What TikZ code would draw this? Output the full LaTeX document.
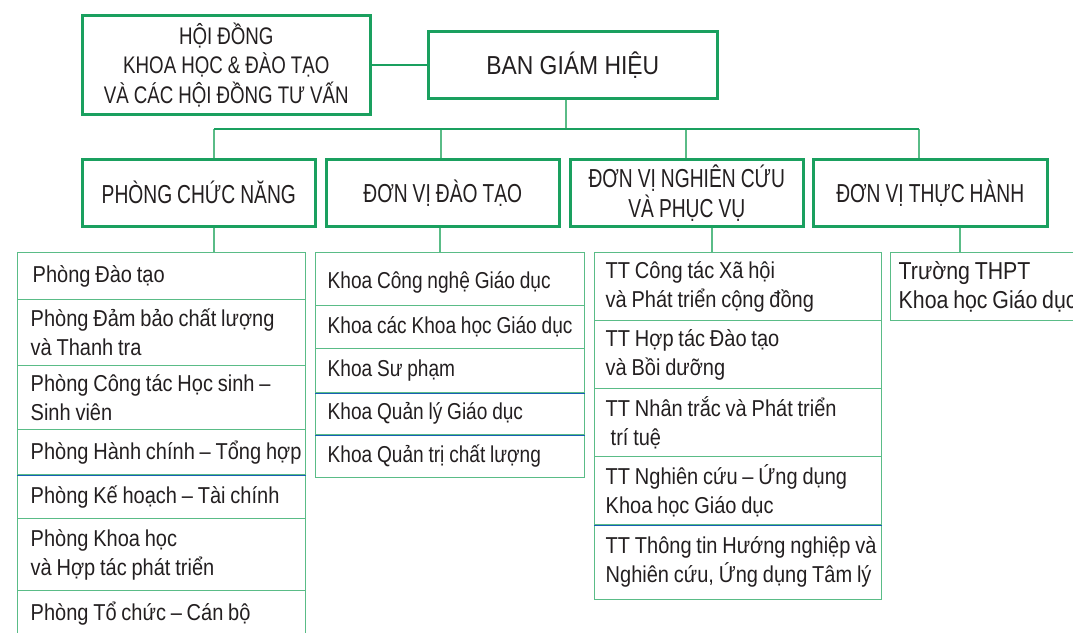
\documentclass[tikz,border=0pt]{standalone}
\usepackage{fontspec}
\setmainfont{Liberation Sans}
\newfontfamily\listfont[FakeStretch=0.87]{Liberation Sans}
\newfontfamily\khoafont[FakeStretch=0.83]{Liberation Sans}
\newfontfamily\thptfont[FakeStretch=0.87]{Liberation Sans}
\newfontfamily\headfont[FakeStretch=0.74]{Liberation Sans}
\newfontfamily\bghfont[FakeStretch=0.88]{Liberation Sans}
\newfontfamily\hdfont[FakeStretch=0.78]{Liberation Sans}
\newskip\lspskip \lspskip=4.8pt plus 1pt minus 1pt
\newskip\hspskip \hspskip=5pt plus 1pt minus 1pt
\protected\def\listsel{\listfont\fontsize{23}{29}\selectfont\spaceskip=\lspskip\relax}
\protected\def\khoasel{\khoafont\fontsize{23}{29}\selectfont\spaceskip=\lspskip\relax}
\protected\def\thptsel{\thptfont\fontsize{24.5}{29.5}\selectfont\spaceskip=\lspskip\relax}
\protected\def\headsel{\headfont\fontsize{26}{30}\selectfont\spaceskip=\hspskip\relax}
\protected\def\hdsel{\hdfont\fontsize{24}{29.5}\selectfont\spaceskip=\hspskip\relax}
\protected\def\bghsel{\bghfont\fontsize{26}{30}\selectfont}
\definecolor{gthick}{RGB}{26,160,95}
\definecolor{glight}{RGB}{90,188,135}
\definecolor{bline}{RGB}{25,95,180}
\definecolor{txt}{RGB}{35,31,32}
\tikzset{
  mainbox/.style={draw=gthick, line width=2.6pt, text=txt, align=center, inner sep=0pt, anchor=north west},
  headbox/.style={mainbox, minimum width=233pt, minimum height=67pt, font=\headsel},
  rowbox/.style={draw=glight, line width=1.4pt, text=txt, align=flush left, anchor=north west, inner ysep=0pt, font=\listsel},
  rowP/.style={rowbox, minimum width=288pt, text width=262pt, inner xsep=13pt},
  rowK/.style={rowbox, minimum width=269pt, text width=245pt, inner xsep=12pt, font=\khoasel},
  rowT/.style={rowbox, minimum width=287pt, text width=265pt, inner xsep=11pt},
  busline/.style={draw=gthick, line width=2.4pt},
  linkline/.style={draw=glight, line width=1.5pt},
  sepblue/.style={draw=bline, line width=1.2pt}
}
\begin{document}
\begin{tikzpicture}[x=1pt, y=-1pt]
\useasboundingbox (0,0) rectangle (1073,632);
\clip (0,0) rectangle (1073,632);
% top level
\node[mainbox, minimum width=288pt, minimum height=99pt, font=\hdsel] (hd) at (81,14) {HỘI ĐỒNG\\KHOA HỌC \& ĐÀO TẠO\\VÀ CÁC HỘI ĐỒNG TƯ VẤN};
\node[mainbox, minimum width=289pt, minimum height=67pt, font=\bghsel] (bgh) at (427,30) {BAN GIÁM HIỆU};
\draw[busline] (hd.east) -- (bgh.west);
% level 2
\node[headbox] (pcn) at (81,158) {PHÒNG CHỨC NĂNG};
\node[headbox] (dt) at (325,158) {ĐƠN VỊ ĐÀO TẠO};
\node[headbox] (nc) at (569,158) {ĐƠN VỊ NGHIÊN CỨU\\VÀ PHỤC VỤ};
\node[headbox, minimum width=234pt] (th) at (812,158) {ĐƠN VỊ THỰC HÀNH};
% bus
\coordinate (b0) at (566,129);
\coordinate (b1) at (214,129);
\coordinate (b2) at (441,129);
\coordinate (b3) at (686,129);
\coordinate (b4) at (919,129);
\draw[linkline] (b0 |- bgh.south) -- (b0);
\draw[linkline] (b1) -- (b1 |- pcn.north);
\draw[linkline] (b2) -- (b2 |- dt.north);
\draw[linkline] (b3) -- (b3 |- nc.north);
\draw[linkline] (b4) -- (b4 |- th.north);
\draw[busline] (b1) -- (b4);
% Phong list
\node[rowP, minimum height=47pt] (p1) at (17,252) {\hspace*{2pt}Phòng Đào tạo};
\node[rowP, minimum height=66pt] (p2) at (17,299) {\mbox{Phòng Đảm bảo chất lượng}\\và Thanh tra};
\node[rowP, minimum height=64pt] (p3) at (17,365) {\mbox{Phòng Công tác Học sinh –}\\Sinh viên};
\node[rowP, minimum height=45pt] (p4) at (17,429) {\mbox{Phòng Hành chính – Tổng hợp}};
\node[rowP, minimum height=44pt] (p5) at (17,474) {\mbox{Phòng Kế hoạch – Tài chính}};
\node[rowP, minimum height=72pt] (p6) at (17,518) {Phòng Khoa học\\\mbox{và Hợp tác phát triển}};
\node[rowP, minimum height=46pt] (p7) at (17,590) {\mbox{Phòng Tổ chức – Cán bộ}};
% Khoa list
\node[rowK, minimum height=53pt] (k1) at (315,252) {\raisebox{-4pt}[15pt][5pt]{Khoa Công nghệ Giáo dục}};
\node[rowK, minimum height=43pt] (k2) at (315,305) {\mbox{Khoa các Khoa học Giáo dục}};
\node[rowK, minimum height=44pt] (k3) at (315,348) {Khoa Sư phạm};
\node[rowK, minimum height=42pt] (k4) at (315,392) {\mbox{Khoa Quản lý Giáo dục}};
\node[rowK, minimum height=43pt] (k5) at (315,434) {\mbox{Khoa Quản trị chất lượng}};
% TT list
\node[rowT, minimum height=68pt] (t1) at (594,252) {TT Công tác Xã hội\\\mbox{và Phát triển cộng đồng}};
\node[rowT, minimum height=68pt] (t2) at (594,320) {TT Hợp tác Đào tạo\\và Bồi dưỡng};
\node[rowT, minimum height=68pt] (t3) at (594,388) {\mbox{TT Nhân trắc và Phát triển}\\\hspace*{5pt}trí tuệ};
\node[rowT, minimum height=68pt] (t4) at (594,456) {\mbox{TT Nghiên cứu – Ứng dụng}\\Khoa học Giáo dục};
\node[rowT, minimum height=75pt] (t5) at (594,524) {\mbox{TT Thông tin Hướng nghiệp và}\\\mbox{Nghiên cứu, Ứng dụng Tâm lý}};
% blue separators
\draw[sepblue] (p4.south west) -- (p4.south east);
\draw[sepblue] (k3.south west) -- (k3.south east);
\draw[sepblue] (k4.south west) -- (k4.south east);
\draw[sepblue] (t4.south west) -- (t4.south east);
% Truong THPT
\node[rowbox, minimum width=230pt, text width=220pt, inner xsep=8pt, minimum height=68pt, font=\thptsel] (s1) at (890,252) {Trường THPT\\\mbox{Khoa học Giáo dục}};
% level 3 links
\coordinate (c1) at (214,0);
\coordinate (c2) at (440,0);
\coordinate (c3) at (712,0);
\coordinate (c4) at (960,0);
\draw[linkline] (c1 |- pcn.south) -- (c1 |- p1.north);
\draw[linkline] (c2 |- dt.south) -- (c2 |- k1.north);
\draw[linkline] (c3 |- nc.south) -- (c3 |- t1.north);
\draw[linkline] (c4 |- th.south) -- (c4 |- s1.north);
\end{tikzpicture}
\end{document}
